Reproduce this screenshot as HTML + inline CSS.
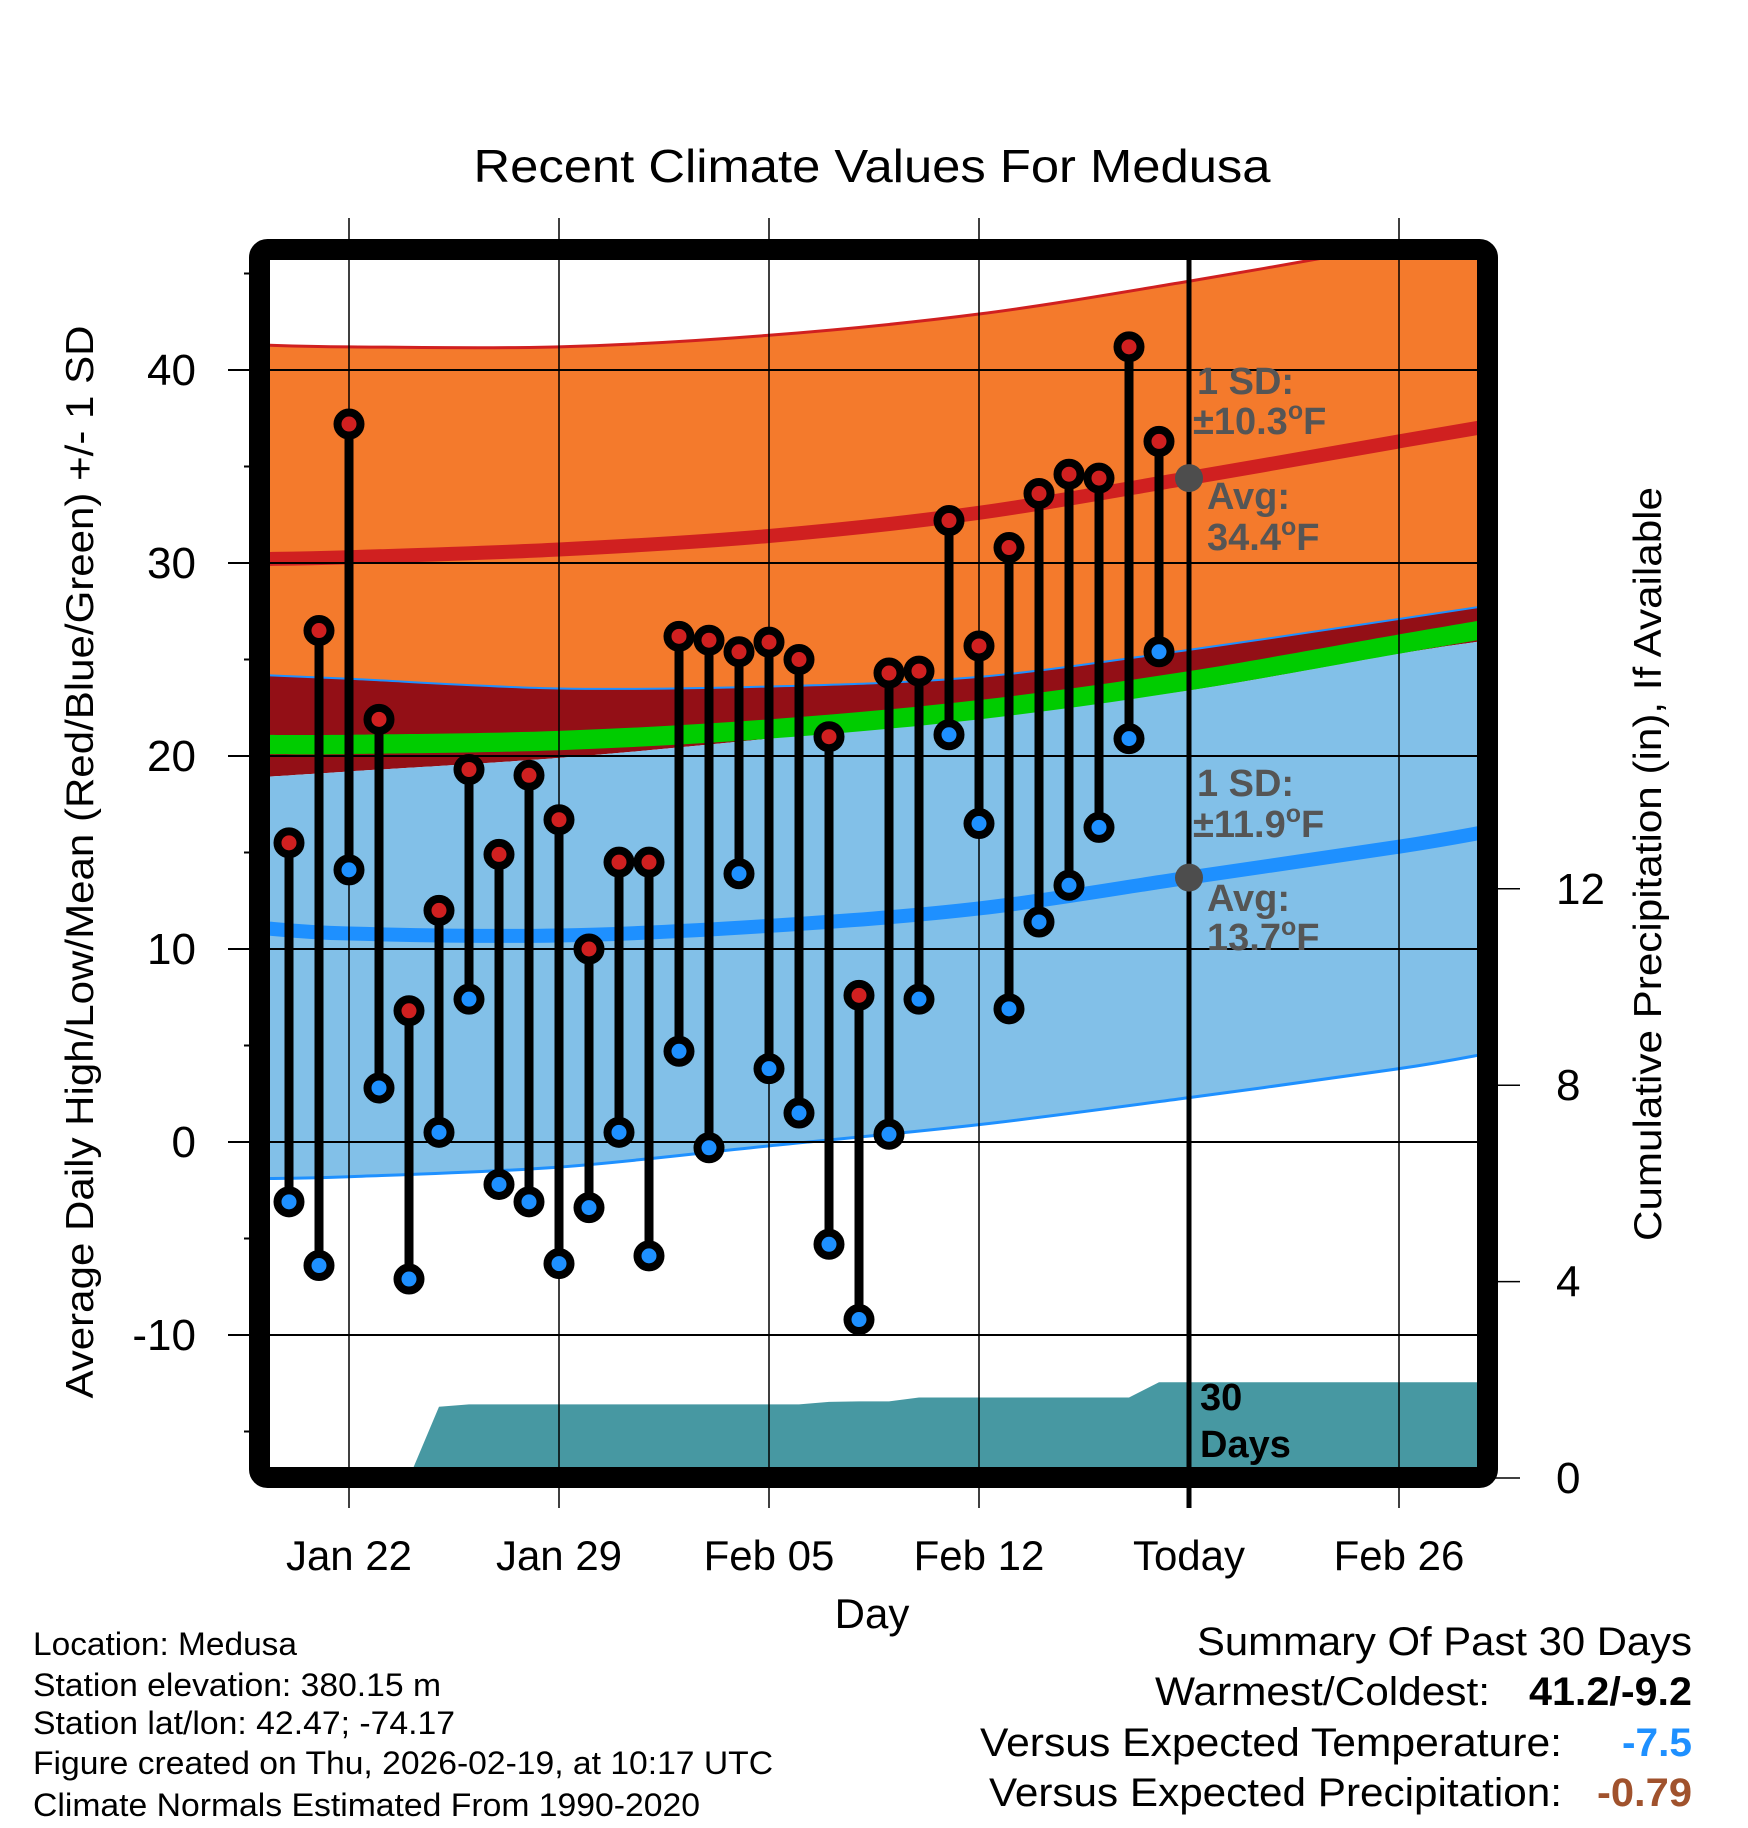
<!DOCTYPE html>
<html><head><meta charset="utf-8"><style>
html,body{margin:0;padding:0;background:#fff;}
svg{display:block;font-family:"Liberation Sans",Arial,sans-serif;}
</style></head><body>
<svg id="chart" width="1748" height="1828" viewBox="0 0 1748 1828" xmlns="http://www.w3.org/2000/svg">
<defs><clipPath id="plotclip"><rect x="270" y="260" width="1208" height="1208"/></clipPath></defs>
<text x="872" y="182" font-size="46" text-anchor="middle" textLength="797" lengthAdjust="spacingAndGlyphs">Recent Climate Values For Medusa</text>
<g id="fills" clip-path="url(#plotclip)"></g>
<g id="grid"></g>
<g id="marks"></g>
<g id="axes"></g>
<g id="annot" font-weight="bold" fill="#555" font-size="38">
<text x="1197" y="394" textLength="97" lengthAdjust="spacingAndGlyphs">1 SD:</text>
<text x="1193" y="434">±10.3<tspan font-size="25" dy="-15">o</tspan><tspan dy="15">F</tspan></text>
<text x="1207" y="509">Avg:</text>
<text x="1207" y="550">34.4<tspan font-size="25" dy="-15">o</tspan><tspan dy="15">F</tspan></text>
<text x="1197" y="796" textLength="97" lengthAdjust="spacingAndGlyphs">1 SD:</text>
<text x="1193" y="837">±11.9<tspan font-size="25" dy="-15">o</tspan><tspan dy="15">F</tspan></text>
<text x="1207" y="911">Avg:</text>
<text x="1207" y="950">13.7<tspan font-size="25" dy="-15">o</tspan><tspan dy="15">F</tspan></text>
</g>
<g font-weight="bold" font-size="38" fill="#000">
<text x="1200" y="1410">30</text><text x="1200" y="1457">Days</text>
</g>
<text x="872" y="1628" font-size="42" text-anchor="middle">Day</text>
<text transform="translate(93,862) rotate(-90)" font-size="39" text-anchor="middle" textLength="1073" lengthAdjust="spacingAndGlyphs">Average Daily High/Low/Mean (Red/Blue/Green) +/- 1 SD</text>
<text transform="translate(1661,864) rotate(-90)" font-size="39" text-anchor="middle" textLength="754" lengthAdjust="spacingAndGlyphs">Cumulative Precipitation (in), If Available</text>
<g font-size="32">
<text x="33" y="1655" textLength="264" lengthAdjust="spacingAndGlyphs">Location: Medusa</text>
<text x="33" y="1696" textLength="408" lengthAdjust="spacingAndGlyphs">Station elevation: 380.15 m</text>
<text x="33" y="1734" textLength="422" lengthAdjust="spacingAndGlyphs">Station lat/lon: 42.47; -74.17</text>
<text x="33" y="1774" textLength="740" lengthAdjust="spacingAndGlyphs">Figure created on Thu, 2026-02-19, at 10:17 UTC</text>
<text x="33" y="1816" textLength="667" lengthAdjust="spacingAndGlyphs">Climate Normals Estimated From 1990-2020</text>
</g>
<g font-size="40">
<text x="1197" y="1655" textLength="495" lengthAdjust="spacingAndGlyphs">Summary Of Past 30 Days</text>
<text x="1155" y="1705" textLength="335" lengthAdjust="spacingAndGlyphs">Warmest/Coldest:</text>
<text x="1529" y="1705" font-weight="bold" textLength="163" lengthAdjust="spacingAndGlyphs">41.2/-9.2</text>
<text x="980" y="1756" textLength="582" lengthAdjust="spacingAndGlyphs">Versus Expected Temperature:</text>
<text x="1622" y="1756" font-weight="bold" fill="#1e90ff" textLength="70" lengthAdjust="spacingAndGlyphs">-7.5</text>
<text x="989" y="1806" textLength="573" lengthAdjust="spacingAndGlyphs">Versus Expected Precipitation:</text>
<text x="1597" y="1806" font-weight="bold" fill="#a0522d" textLength="95" lengthAdjust="spacingAndGlyphs">-0.79</text>
</g>
</svg>
<script>
// day index: 0 = Jan 22
const obsDays = [-2,-1,0,1,2,3,4,5,6,7,8,9,10,11,12,13,14,15,16,17,18,19,20,21,22,23,24,25,26,27];
const highs = [15.5,26.5,37.2,21.9,6.8,12.0,19.3,14.9,19.0,16.7,10.0,14.5,14.5,26.2,26.0,25.4,25.9,25.0,21.0,7.6,24.3,24.4,32.2,25.7,30.8,33.6,34.6,34.4,41.2,36.3];
const lows = [-3.1,-6.4,14.1,2.8,-7.1,0.5,7.4,-2.2,-3.1,-6.3,-3.4,0.5,-5.9,4.7,-0.3,13.9,3.8,1.5,-5.3,-9.2,0.4,7.4,21.1,16.5,6.9,11.4,13.3,16.3,20.9,25.4];
const normDays = [-3,0,7,14,21,28,35,38];
const highHi = [41.3,41.2,41.2,41.8,42.9,44.6,46.5,47.3];
const highAvg = [30.2,30.3,30.7,31.4,32.6,34.4,36.3,37.1];
const highLo = [24.2,24.0,23.5,23.6,24.1,25.5,27.1,27.8];
const meanT = [20.6,20.6,20.8,21.4,22.4,23.9,25.8,26.6];
const lowHi = [18.9,19.2,19.9,20.9,22.0,23.4,25.3,26.0];
const lowAvg = [11.1,10.8,10.7,11.2,12.1,13.7,15.3,16.1];
const lowLo = [-1.9,-1.8,-1.3,-0.2,0.9,2.3,3.8,4.6];
const precipDays = [-3,-2,-1,0,1,2,3,4,5,6,7,8,9,10,11,12,13,14,15,16,17,18,19,20,21,22,23,24,25,26,27,28,39];
const precipCum = [0,0,0,0,0,0,1.45,1.50,1.50,1.50,1.50,1.50,1.50,1.50,1.50,1.50,1.50,1.50,1.50,1.55,1.56,1.56,1.64,1.64,1.64,1.64,1.64,1.64,1.64,1.64,1.95,1.95,1.95];
const tempTicks = [-10,0,10,20,30,40];
const tempMinor = [-15,-5,5,15,25,35,45];
const precipTicks = [0,4,8,12];
const dateTickDays = [0,7,14,21,28,35];
const dateTickLabels = ["Jan 22","Jan 29","Feb 05","Feb 12","Today","Feb 26"];
const todayDay = 28;
const todayHighAvg = 34.4, todayLowAvg = 13.7;

const NS="http://www.w3.org/2000/svg";
const X = d => 349 + 30*d;
const Y = t => 1142 - 19.3*t;
const YP = p => 1478 - 49.1*p;
function mk(tag, attrs, parent){const e=document.createElementNS(NS,tag);for(const k in attrs)e.setAttribute(k,attrs[k]);parent.appendChild(e);return e;}
function pts(days, vals){return days.map((d,i)=>[X(d),Y(vals[i])]);}
function smooth(p){let s=`M${p[0][0]},${p[0][1]}`;for(let i=0;i<p.length-1;i++){const p0=p[Math.max(0,i-1)],p1=p[i],p2=p[i+1],p3=p[Math.min(p.length-1,i+2)];const c1=[p1[0]+(p2[0]-p0[0])/6,p1[1]+(p2[1]-p0[1])/6];const c2=[p2[0]-(p3[0]-p1[0])/6,p2[1]-(p3[1]-p1[1])/6];s+=` C${c1[0]},${c1[1]} ${c2[0]},${c2[1]} ${p2[0]},${p2[1]}`;}return s;}
function smoothRev(p){const r=p.slice().reverse();return smooth(r).replace(/^M/,'L');}
function band(lo,hi){const a=pts(normDays,hi),b=pts(normDays,lo);return smooth(a)+' '+smoothRev(b)+' Z';}

const fills=document.getElementById('fills');
let e;
e=mk('path',{d:band(highLo,highHi),fill:'#f47a2c'},fills);


e=mk('path',{d:band(lowHi,highLo),fill:'#930f16'},fills);


e=mk('path',{d:band(lowLo,lowHi),fill:'#82c0e8'},fills);


e=mk('path',{d:band(meanT.map(v=>v-0.5),meanT.map(v=>v+0.5)),fill:'#00cc00'},fills);


e=mk('path',{d:smooth(pts(normDays,highHi)),fill:'none',stroke:'#d02020','stroke-width':3},fills);


e=mk('path',{d:smooth(pts(normDays,highLo)),fill:'none',stroke:'#1e90ff','stroke-width':2},fills);


e=mk('path',{d:smooth(pts(normDays,lowLo)),fill:'none',stroke:'#1e90ff','stroke-width':3},fills);


e=mk('path',{d:smooth(pts(normDays,highAvg)),fill:'none',stroke:'#d02020','stroke-width':14},fills);


e=mk('path',{d:smooth(pts(normDays,lowAvg)),fill:'none',stroke:'#1e90ff','stroke-width':14},fills);


let pd=`M${X(precipDays[0])},${YP(0)}`;
precipDays.forEach((d,i)=>{pd+=` L${X(d)},${YP(precipCum[i])}`;});
pd+=` L${X(precipDays[precipDays.length-1])},${YP(0)} Z`;
e=mk('path',{d:pd,fill:'#4798a2'},fills);



const grid=document.getElementById('grid');
tempTicks.forEach(t=>{
  e=mk('line',{x1:228,x2:1478,y1:Y(t),y2:Y(t),stroke:'#000','stroke-width':2},grid);
  
  
  e=mk('text',{x:196,y:Y(t)+15,'font-size':44,'text-anchor':'end'},grid);
  e.textContent=String(t);
  
  
});
tempMinor.forEach(t=>{
  e=mk('line',{x1:244,x2:260,y1:Y(t),y2:Y(t),stroke:'#000','stroke-width':2},grid);
  
  
});
dateTickDays.forEach((d,i)=>{
  const isToday = d===todayDay;
  e=mk('line',{x1:X(d),x2:X(d),y1:isToday?260:218,y2:1508,stroke:'#000','stroke-width':isToday?5:1.5},grid);
  
  
  e=mk('text',{x:X(d),y:1570,'font-size':42,'text-anchor':'middle'},grid);
  e.textContent=dateTickLabels[i];
  
  
});
precipTicks.forEach(p=>{
  e=mk('line',{x1:1490,x2:1520,y1:YP(p),y2:YP(p),stroke:'#000','stroke-width':1.5},grid);
  
  
  e=mk('text',{x:1556,y:YP(p)+15,'font-size':44},grid);
  e.textContent=String(p);
  
  
});

const marks=document.getElementById('marks');
e=mk('circle',{cx:X(todayDay),cy:Y(todayHighAvg),r:14,fill:'#4d4d4d'},marks);


e=mk('circle',{cx:X(todayDay),cy:Y(todayLowAvg),r:14,fill:'#4d4d4d'},marks);


obsDays.forEach((d,i)=>{
  e=mk('line',{x1:X(d),x2:X(d),y1:Y(highs[i]),y2:Y(lows[i]),stroke:'#000','stroke-width':9},marks);
  
  
  e=mk('circle',{cx:X(d),cy:Y(highs[i]),r:11.5,fill:'#d02020',stroke:'#000','stroke-width':8},marks);
  
  
  e=mk('circle',{cx:X(d),cy:Y(lows[i]),r:11.5,fill:'#1e90ff',stroke:'#000','stroke-width':8},marks);
  
  
});

const axes=document.getElementById('axes');
e=mk('rect',{x:259.5,y:249.5,width:1228,height:1228,rx:8,fill:'none',stroke:'#000','stroke-width':21},axes);


</script>
</body></html>
